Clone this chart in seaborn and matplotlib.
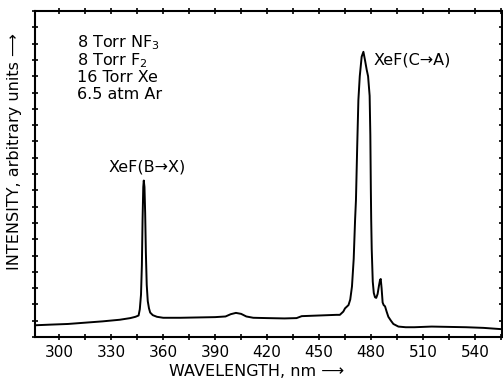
import numpy as np
import pandas as pd
import matplotlib
matplotlib.use('Agg')
import matplotlib.pyplot as plt
from matplotlib.ticker import MultipleLocator
import seaborn as sns

# Style
sns.set_style('ticks')
plt.rcParams['font.family'] = ['DejaVu Sans']
plt.rcParams['text.color'] = 'black'
plt.rcParams['axes.labelcolor'] = 'black'
plt.rcParams['xtick.color'] = 'black'
plt.rcParams['ytick.color'] = 'black'
plt.rcParams['axes.edgecolor'] = 'black'

# Spectrum (wavelength in nm, intensity in arbitrary units)
wavelength = [286, 295, 305, 315, 325, 335, 341, 344, 345.8, 346.5, 347.2, 347.7,
              348.1, 348.5, 348.8, 349.2, 349.6, 350.0, 350.5, 351.1, 351.8, 352.5,
              354, 356.4, 360, 370, 380, 390, 396, 399, 402, 405, 408, 412, 420,
              430, 437, 440, 445, 450, 455, 460, 462, 464, 465, 467, 468, 469, 470,
              470.8, 471.3, 472, 472.7, 473.5, 474.6, 475.6, 476.5, 477.5, 478.3,
              478.6, 479.2, 479.6, 479.9, 480.1, 480.4, 481.0, 481.6, 482.3, 483.0,
              483.8, 484.6, 485.2, 485.6, 486.1, 486.7, 487.3, 488.1, 489, 490,
              491.5, 492.9, 495.8, 500, 505, 515, 525, 535, 545, 555.5]
intensity = [3.6, 3.8, 4.0, 4.4, 4.8, 5.3, 5.8, 6.2, 6.6, 8.5, 13, 22,
             36, 46, 48, 46, 38, 26, 16, 11, 8.8, 7.5,
             6.7, 6.2, 5.9, 5.9, 6.0, 6.1, 6.3, 7.0, 7.4, 7.1, 6.3, 5.9, 5.8,
             5.7, 5.8, 6.4, 6.5, 6.6, 6.7, 6.8, 6.8, 7.8, 8.8, 9.8, 11.5, 15.5, 24,
             36, 42, 58, 72.7, 80, 86, 87.5, 85, 82, 80,
             78, 74, 62, 45, 36, 27, 17, 13.5, 12.2, 12.0,
             13.2, 15.8, 17.5, 17.8, 15, 10.6, 9.8, 9.4, 7.8, 6.2,
             5.0, 4.0, 3.2, 3.0, 3.0, 3.2, 3.1, 3.0, 2.8, 2.4]

conditions = ['8 Torr NF$_3$', '8 Torr F$_2$', '16 Torr Xe', '6.5 atm Ar']
x_ticks = [300, 330, 360, 390, 420, 450, 480, 510, 540]

df = pd.DataFrame({'Wavelength': wavelength, 'Intensity': intensity})

fig = plt.figure(figsize=(5.03, 3.79), dpi=100)
ax = fig.add_axes([0.0696, 0.1108, 0.928, 0.860])

sns.lineplot(x='Wavelength', y='Intensity', data=df, ax=ax, color='black', linewidth=1.4)

ax.set_xlim(286, 555.5)
ax.set_ylim(0, 100)
ax.set_xticks(x_ticks)
ax.xaxis.set_minor_locator(MultipleLocator(15))
ax.yaxis.set_major_locator(MultipleLocator(5))
ax.tick_params(which='both', direction='inout', length=5, width=1.2,
               top=True, right=True, labelsize=11, pad=3)
ax.tick_params(axis='y', which='major', labelleft=False)
for s in ax.spines.values():
    s.set_linewidth(1.5)

ax.set_xlabel('WAVELENGTH, nm ⟶', fontsize=11.5)
ax.xaxis.set_label_coords(0.475, -0.082)
ax.set_ylabel('INTENSITY, arbitrary units ⟶', fontsize=11.5)
ax.yaxis.set_label_coords(-0.028, 0.57)

# Gas mixture notes
for i, txt in enumerate(conditions):
    ax.text(310.4, 90.2 - 5.3 * i, txt, fontsize=11.5, va='center', ha='left')

# Band labels
ax.text(481.2, 85, 'XeF(C→A)', fontsize=11.5, va='center', ha='left')
ax.text(350.8, 52.1, 'XeF(B→X)', fontsize=11.5, va='center', ha='center')

plt.savefig('out.png', dpi=100)
